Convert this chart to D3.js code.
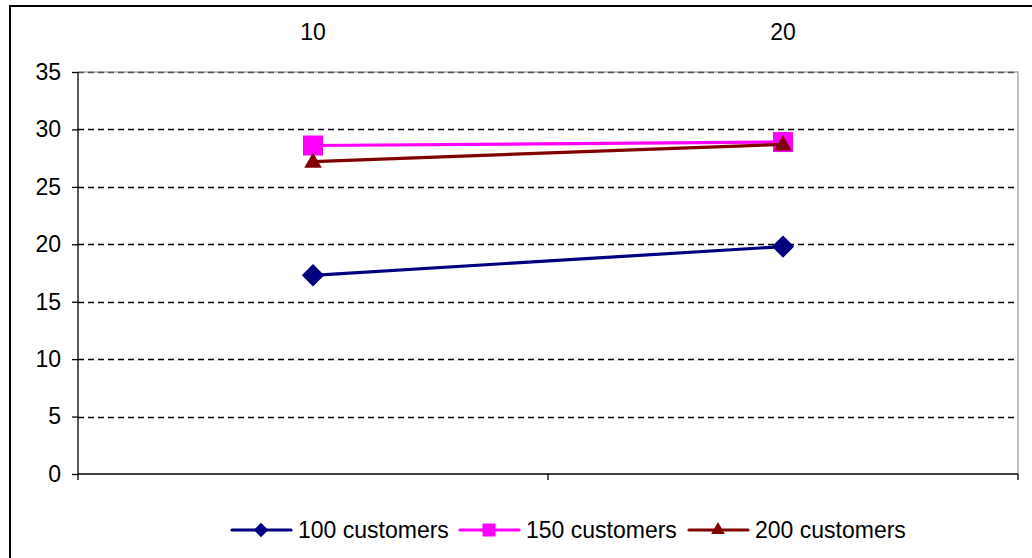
<!DOCTYPE html>
<html>
<head>
<meta charset="utf-8">
<script src="https://cdn.jsdelivr.net/npm/d3@7"></script>
<style>
  html, body { margin: 0; padding: 0; background: #fff; }
  svg { display: block; }
  text { font-family: "Liberation Sans", Arial, sans-serif; fill: #000; }
</style>
</head>
<body>
<svg id="chart" width="1032" height="558"></svg>
<script>
// Categories along the x axis and the y tick values
const categories = ["10", "20"];
const yTicks = [0, 5, 10, 15, 20, 25, 30, 35];

// Series values, one per category
const seriesNames = ["100 customers", "150 customers", "200 customers"];
const customers100 = [17.3, 19.8];
const customers150 = [28.6, 28.9];
const customers200 = [27.2, 28.7];

const series = [
  { name: seriesNames[0], values: customers100, color: "#000080", marker: "diamond" },
  { name: seriesNames[1], values: customers150, color: "#FF00FF", marker: "square" },
  { name: seriesNames[2], values: customers200, color: "#800000", marker: "triangle" }
];

const svg = d3.select("#chart");
const plot = { left: 78, right: 1018, top: 72, bottom: 474 };
const fontSize = "23px";

// Outer chart frame (right and bottom edges fall outside the canvas)
svg.append("rect")
  .attr("x", 10).attr("y", 6)
  .attr("width", 1040).attr("height", 580)
  .attr("fill", "#fff").attr("stroke", "#000").attr("stroke-width", 2);

const x = d3.scaleBand().domain(categories).range([plot.left, plot.right]).padding(0);
const y = d3.scaleLinear().domain([0, 35]).range([plot.bottom, plot.top]);

// Plot area border (grey) on top and right
svg.append("path")
  .attr("d", `M${plot.left},${plot.top}H${plot.right}V${plot.bottom}`)
  .attr("fill", "none").attr("stroke", "#b0b0b0").attr("stroke-width", 1.5);

// Dashed horizontal gridlines
svg.append("g")
  .selectAll("line")
  .data(yTicks.filter(d => d > 0))
  .join("line")
  .attr("x1", plot.left).attr("x2", plot.right)
  .attr("y1", d => Math.round(y(d)) + 0.5).attr("y2", d => Math.round(y(d)) + 0.5)
  .attr("stroke", d => d === 35 ? "#555" : "#000")
  .attr("stroke-width", 1.3)
  .attr("stroke-dasharray", "6,4");

// Y axis
const yAxis = svg.append("g")
  .attr("transform", `translate(${plot.left},0)`)
  .call(d3.axisLeft(y).tickValues(yTicks).tickSize(6).tickPadding(11).tickFormat(d3.format("d")));
yAxis.select(".domain").remove();
yAxis.selectAll(".tick line").attr("stroke", "#000").attr("stroke-width", 1.3);
yAxis.selectAll(".tick text").attr("font-size", fontSize).attr("font-family", "Liberation Sans, Arial, sans-serif");
svg.append("line")
  .attr("x1", plot.left).attr("x2", plot.left)
  .attr("y1", plot.top).attr("y2", plot.bottom + 6)
  .attr("stroke", "#000").attr("stroke-width", 1.3);

// Category axis line with ticks between categories
svg.append("line")
  .attr("x1", plot.left).attr("x2", plot.right)
  .attr("y1", plot.bottom).attr("y2", plot.bottom)
  .attr("stroke", "#000").attr("stroke-width", 1.5);
const edges = categories.map(c => x(c)).concat([x(categories[categories.length - 1]) + x.bandwidth()]);
svg.append("g")
  .selectAll("line")
  .data(edges.slice(1))
  .join("line")
  .attr("x1", d => d).attr("x2", d => d)
  .attr("y1", plot.bottom).attr("y2", plot.bottom + 6)
  .attr("stroke", "#000").attr("stroke-width", 1.3);

// Category labels along the top
const xAxis = svg.append("g")
  .attr("transform", `translate(0,${plot.top})`)
  .call(d3.axisTop(x).tickSize(0).tickPadding(32));
xAxis.select(".domain").remove();
xAxis.selectAll(".tick text").attr("font-size", fontSize).attr("font-family", "Liberation Sans, Arial, sans-serif");

// Marker shapes
function markerPath(type, scale) {
  if (type === "diamond") return d3.symbol().type(d3.symbolSquare).size(250 * scale)();
  if (type === "square") return d3.symbol().type(d3.symbolSquare).size(400 * scale)();
  return d3.symbol().type(d3.symbolTriangle).size(135 * scale)();
}

const line = d3.line()
  .x((d, i) => x(categories[i]) + x.bandwidth() / 2)
  .y(d => y(d));

series.forEach(s => {
  const g = svg.append("g");
  g.append("path")
    .attr("d", line(s.values))
    .attr("fill", "none").attr("stroke", s.color).attr("stroke-width", 3.2);
  g.selectAll("path.marker")
    .data(s.values)
    .join("path")
    .attr("class", "marker")
    .attr("d", markerPath(s.marker, 1))
    .attr("transform", (d, i) => {
      const cx = x(categories[i]) + x.bandwidth() / 2;
      const cy = y(d) + (s.marker === "triangle" ? 1 : 0);
      return `translate(${cx},${cy})` + (s.marker === "diamond" ? " rotate(45)" : "");
    })
    .attr("fill", s.color);
});

// Legend
const legendX = [232, 460, 689];
const legendY = 530;
const legend = svg.append("g");
series.forEach((s, i) => {
  const g = legend.append("g").attr("transform", `translate(${legendX[i]},${legendY})`);
  g.append("line")
    .attr("x1", 0).attr("x2", 59).attr("y1", 0).attr("y2", 0)
    .attr("stroke", s.color).attr("stroke-width", 3.2).attr("stroke-linecap", "round");
  g.append("path")
    .attr("d", markerPath(s.marker, s.marker === "triangle" ? 0.6 : 0.42))
    .attr("transform", `translate(29,0)` + (s.marker === "diamond" ? " rotate(45)" : ""))
    .attr("fill", s.color);
  g.append("text")
    .attr("x", 66).attr("y", 0).attr("dy", "0.35em")
    .attr("font-size", fontSize)
    .text(s.name);
});
</script>
</body>
</html>
